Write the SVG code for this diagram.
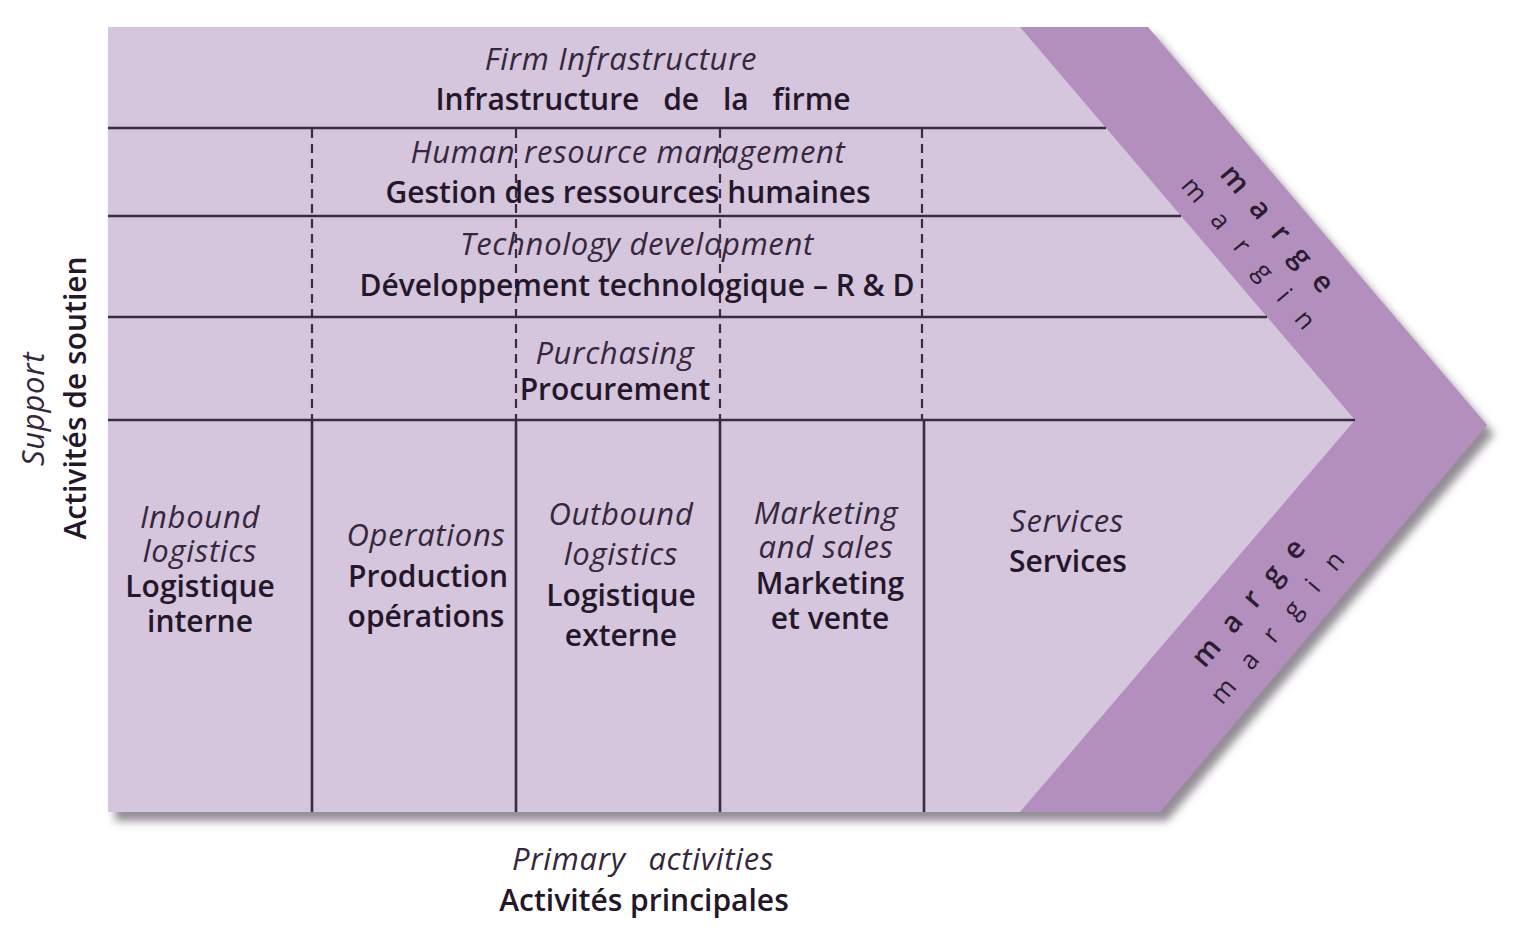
<svg xmlns="http://www.w3.org/2000/svg" width="1536" height="934" viewBox="0 0 1536 934">
<defs>
<filter id="shadow" x="-5%" y="-5%" width="115%" height="115%">
<feDropShadow dx="7" dy="9" stdDeviation="4" flood-color="#6e6670" flood-opacity="0.75"/>
</filter>
<style>
.t{font-family:"Open Sans","Liberation Sans",sans-serif;fill:#24172a;text-anchor:middle}
.r{font-size:30px;font-weight:600}
.i{font-size:31px;font-style:italic;font-weight:400;fill:#35283c;letter-spacing:0.7px}
.m{font-family:"Open Sans","Liberation Sans",sans-serif;fill:#2a1c31;text-anchor:middle}
.solid{stroke:#3a2b42;stroke-width:2.6;fill:none}
.dash{stroke:#3a2b42;stroke-width:2.2;stroke-dasharray:9 6;fill:none}
</style>
</defs>
<rect width="1536" height="934" fill="#ffffff"/>
<g id="chain">
<polygon points="108,27 1148,27 1487,425 1160,812 108,812" fill="#b38fbd" filter="url(#shadow)"/>
<polygon points="108,27 1020,27 1355,420 1020,812 108,812" fill="#d5c5dd"/>
</g>
<g id="connectors">
<line class="solid" x1="108" y1="128" x2="1106" y2="128"/>
<line class="solid" x1="108" y1="216" x2="1181" y2="216"/>
<line class="solid" x1="108" y1="317" x2="1267" y2="317"/>
<line class="solid" x1="108" y1="420" x2="1355" y2="420"/>
<line class="dash" x1="312" y1="129" x2="312" y2="419"/>
<line class="dash" x1="516" y1="129" x2="516" y2="419"/>
<line class="dash" x1="720" y1="129" x2="720" y2="419"/>
<line class="dash" x1="922" y1="129" x2="922" y2="419"/>
<line class="solid" x1="312" y1="420" x2="312" y2="812"/>
<line class="solid" x1="516" y1="420" x2="516" y2="812"/>
<line class="solid" x1="720" y1="420" x2="720" y2="812"/>
<line class="solid" x1="924" y1="420" x2="924" y2="812"/>
</g>
<g id="firm-infrastructure">
<text class="t i" x="621" y="70">Firm Infrastructure</text>
<text class="t r" x="643" y="110" word-spacing="16">Infrastructure de la firme</text>
</g>
<g id="hrm">
<text class="t i" x="628" y="163">Human resource management</text>
<text class="t r" x="628" y="203">Gestion des ressources humaines</text>
</g>
<g id="technology">
<text class="t i" x="637" y="255">Technology development</text>
<text class="t r" x="637" y="296">Développement technologique – R &amp; D</text>
</g>
<g id="procurement">
<text class="t i" x="615" y="364">Purchasing</text>
<text class="t r" x="615" y="400">Procurement</text>
</g>
<g id="inbound">
<text class="t i" x="200" y="528">Inbound</text>
<text class="t i" x="200" y="562">logistics</text>
<text class="t r" x="200" y="597">Logistique</text>
<text class="t r" x="200" y="632">interne</text>
</g>
<g id="operations">
<text class="t i" x="426" y="546">Operations</text>
<text class="t r" x="428" y="587">Production</text>
<text class="t r" x="426" y="627">opérations</text>
</g>
<g id="outbound">
<text class="t i" x="621" y="525">Outbound</text>
<text class="t i" x="621" y="565">logistics</text>
<text class="t r" x="621" y="606">Logistique</text>
<text class="t r" x="621" y="646">externe</text>
</g>
<g id="marketing">
<text class="t i" x="826" y="524">Marketing</text>
<text class="t i" x="826" y="558">and sales</text>
<text class="t r" x="830" y="594">Marketing</text>
<text class="t r" x="830" y="629">et vente</text>
</g>
<g id="services">
<text class="t i" x="1067" y="532">Services</text>
<text class="t r" x="1068" y="572">Services</text>
</g>
<g id="margin-top" transform="translate(1262,241) rotate(49.6)">
<text class="m" x="9" y="-10" letter-spacing="17" font-size="29" font-weight="600">marge</text>
<text class="m" x="11" y="27" letter-spacing="21" font-size="26">margin</text>
</g>
<g id="margin-bottom" transform="translate(1263,616) rotate(-49.5)">
<text class="m" x="9" y="-10" letter-spacing="17" font-size="29" font-weight="600">marge</text>
<text class="m" x="11" y="27" letter-spacing="21" font-size="26">margin</text>
</g>
<g id="support-label">
<text class="t i" transform="translate(44,409) rotate(-90)">Support</text>
<text class="t r" transform="translate(86,398) rotate(-90)" font-size="31">Activités de soutien</text>
</g>
<g id="primary-label">
<text class="t i" x="643" y="870" word-spacing="14">Primary activities</text>
<text class="t r" x="644" y="911">Activités principales</text>
</g>
</svg>
